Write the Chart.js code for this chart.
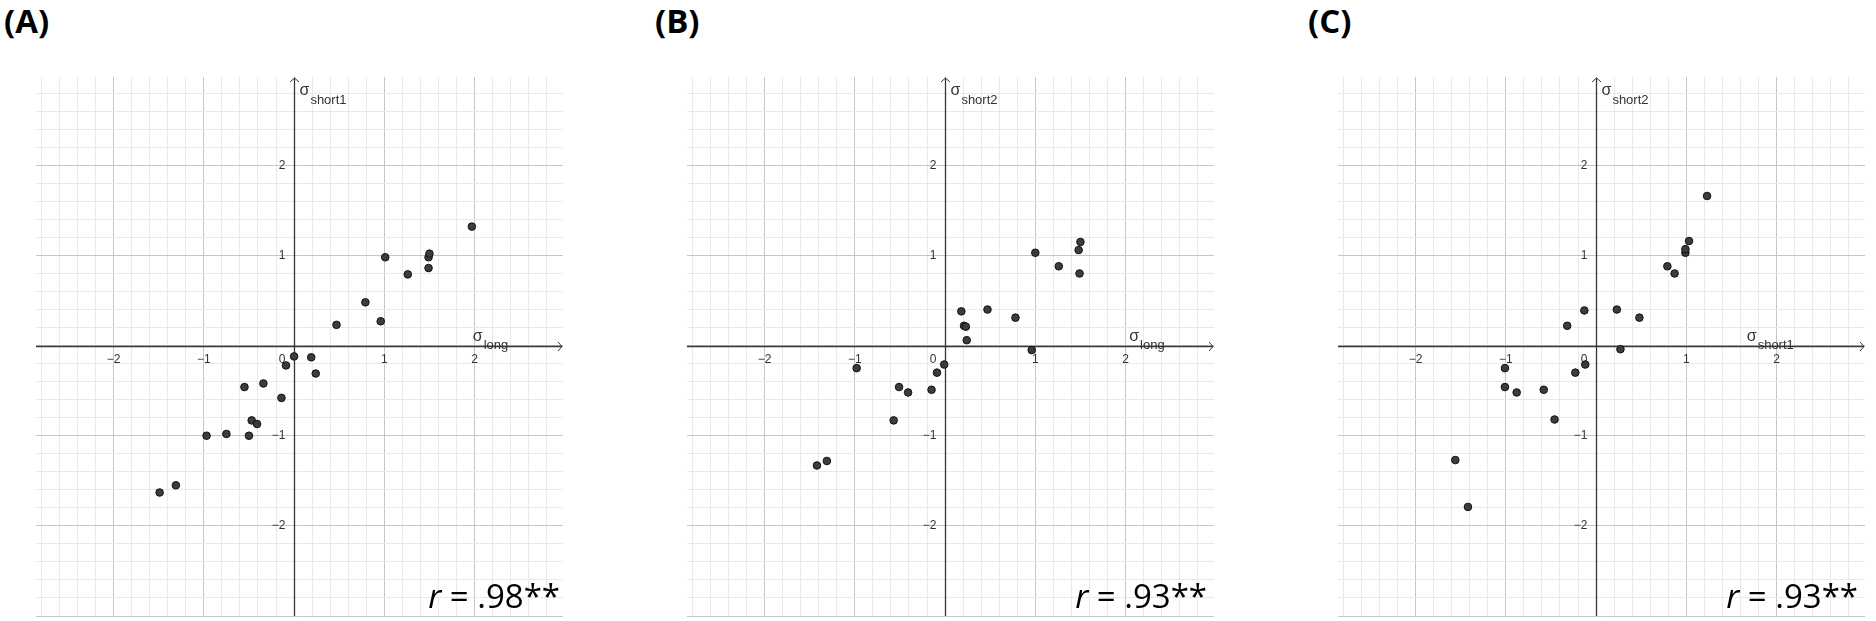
<!DOCTYPE html>
<html>
<head>
<meta charset="utf-8">
<script src="https://cdn.jsdelivr.net/npm/chart.js@4.4.1/dist/chart.umd.min.js"></script>
<style>
    body { margin: 0; background: #fff; }
    #page { position: relative; width: 1876px; height: 621px; overflow: hidden; background: #fff; }
    .panel-letter { position: absolute; top: 4px; font: bold 33px "Open Sans", sans-serif; line-height: 33px; color: #000; }
    .plot { position: absolute; top: 72px; }
    .r-label { position: absolute; top: 579px; font: 33px "Open Sans", sans-serif; line-height: 33px; color: #000; white-space: nowrap; }
</style>
</head>
<body>
<div id="page"></div>
<script>
// (A) sigma_long vs sigma_short1
const longA   = [-1.49, -1.31, -0.97, -0.75, -0.50, -0.47, -0.41, -0.55, -0.34, -0.14, -0.09, 0.00, 0.19, 0.24, 0.47, 0.79, 0.96, 1.01, 1.26, 1.49, 1.49, 1.50, 1.97];
const short1A = [-1.63, -1.55, -1.00, -0.98, -1.00, -0.83, -0.87, -0.46, -0.42, -0.58, -0.22, -0.12, -0.13, -0.31, 0.23, 0.48, 0.27, 0.98, 0.79, 0.86, 0.98, 1.02, 1.32];

// (B) sigma_long vs sigma_short2
const longB   = [-1.42, -1.31, -0.98, -0.57, -0.51, -0.41, -0.15, -0.09, -0.01, 0.18, 0.21, 0.23, 0.24, 0.47, 0.78, 0.96, 1.00, 1.26, 1.49, 1.48, 1.50];
const short2B = [-1.33, -1.28, -0.25, -0.83, -0.46, -0.52, -0.49, -0.30, -0.21, 0.38, 0.22, 0.21, 0.06, 0.40, 0.31, -0.05, 1.03, 0.88, 0.80, 1.06, 1.15];

// (C) sigma_short1 vs sigma_short2
const short1C = [-1.56, -1.42, -1.01, -1.01, -0.88, -0.58, -0.46, -0.32, -0.23, -0.13, -0.12, 0.23, 0.27, 0.48, 0.79, 0.87, 0.99, 0.99, 1.03, 1.23];
const short2C = [-1.27, -1.79, -0.25, -0.46, -0.52, -0.49, -0.82, 0.22, -0.30, 0.39, -0.21, 0.40, -0.04, 0.31, 0.88, 0.80, 1.03, 1.07, 1.16, 1.66];

const panelLetters = ['(A)', '(B)', '(C)'];
const xTitles = ['long', 'long', 'short1'];
const yTitles = ['short1', 'short2', 'short2'];
const rValues = ['.98', '.93', '.93'];
const tickValues = [-2, -1, 1, 2];

(function () {
    const AXIS_COLOR = '#363636';
    const MAJOR_COLOR = '#c6c6c6';
    const MINOR_COLOR = '#e9e9e9';
    const LABEL_COLOR = '#333';
    const page = document.getElementById('page');

    const series = [[longA, short1A], [longB, short2B], [short1C, short2C]];
    // where things sit on the page, per panel
    const layout = [
        { canvasLeft: 31, letterLeft: 4, rRight: 560, xTitleAt: 1.98 },
        { canvasLeft: 682, letterLeft: 655, rRight: 1207, xTitleAt: 2.04 },
        { canvasLeft: 1333, letterLeft: 1308, rRight: 1858, xTitleAt: 1.67 },
    ];

    function fmt(v) {
        return v < 0 ? '\u2212' + Math.abs(v) : String(v);
    }

    function gridColor(ctx) {
        let v = ctx.tick.value;
        return Math.abs(v - Math.round(v)) < 1e-6 ? MAJOR_COLOR : MINOR_COLOR;
    }

    function drawSigma(ctx, sub, x, baseline) {
        ctx.textAlign = 'left';
        ctx.textBaseline = 'alphabetic';
        ctx.font = '16px "Liberation Sans"';
        ctx.fillText('\u03c3', x, baseline);
        let w = ctx.measureText('\u03c3').width;
        ctx.font = '13px "Liberation Sans"';
        ctx.fillText(sub, x + w + 1, baseline + 8.5);
    }

    // GeoGebra-like axes: arrows, labels next to the zero lines
    const geoAxes = {
        id: 'geoAxes',
        beforeDatasetsDraw(chart, args, opts) {
            const { ctx, chartArea: area, scales: { x, y } } = chart;
            const x0 = Math.round(x.getPixelForValue(0)) + 0.5;
            const y0 = Math.round(y.getPixelForValue(0)) + 0.5;
            ctx.save();
            ctx.strokeStyle = AXIS_COLOR;
            ctx.lineWidth = 1.3;
            ctx.beginPath();
            ctx.moveTo(area.left, y0);
            ctx.lineTo(area.right - 1, y0);
            ctx.moveTo(x0, area.bottom);
            ctx.lineTo(x0, area.top + 1);
            ctx.stroke();
            ctx.lineWidth = 1;
            ctx.beginPath();
            ctx.moveTo(area.right - 5, y0 - 4.5);
            ctx.lineTo(area.right - 1, y0);
            ctx.lineTo(area.right - 5, y0 + 4.5);
            ctx.moveTo(x0 - 4.5, area.top + 5);
            ctx.lineTo(x0, area.top + 1);
            ctx.lineTo(x0 + 4.5, area.top + 5);
            ctx.stroke();

            ctx.fillStyle = LABEL_COLOR;
            ctx.font = '12px "Liberation Sans"';
            ctx.textAlign = 'center';
            ctx.textBaseline = 'middle';
            tickValues.forEach(v => ctx.fillText(fmt(v), x.getPixelForValue(v), y0 + 13));
            ctx.textAlign = 'right';
            tickValues.forEach(v => ctx.fillText(fmt(v), x0 - 9, y.getPixelForValue(v)));
            ctx.fillText('0', x0 - 9, y0 + 13);

            drawSigma(ctx, opts.xTitle, x.getPixelForValue(opts.xTitleAt), y0 - 6);
            drawSigma(ctx, opts.yTitle, x0 + 5, area.top + 18);
            ctx.restore();
        }
    };

    function newPanel(i) {
        const pos = layout[i];
        const [xs, ys] = series[i];

        const letter = document.createElement('div');
        letter.className = 'panel-letter';
        letter.style.left = pos.letterLeft + 'px';
        letter.textContent = panelLetters[i];
        page.appendChild(letter);

        const canvas = document.createElement('canvas');
        canvas.className = 'plot';
        canvas.width = 537;
        canvas.height = 549;
        canvas.style.left = pos.canvasLeft + 'px';
        page.appendChild(canvas);

        const r = document.createElement('div');
        r.className = 'r-label';
        r.style.right = (1876 - pos.rRight) + 'px';
        r.innerHTML = '<i>r</i> = ' + rValues[i] + '**';
        page.appendChild(r);

        const axisOptions = (min, max) => ({
            type: 'linear',
            min: min,
            max: max,
            ticks: { display: false, stepSize: 0.2, includeBounds: false },
            grid: { color: gridColor, lineWidth: 1, drawTicks: false },
            border: { display: false },
        });

        return new Chart(canvas, {
            type: 'scatter',
            data: {
                datasets: [{
                    data: xs.map((v, j) => ({ x: v, y: ys[j] })),
                    pointRadius: 3.8,
                    pointBackgroundColor: '#3c3c3c',
                    pointBorderColor: '#111',
                    pointBorderWidth: 1,
                }]
            },
            options: {
                responsive: false,
                animation: false,
                layout: { padding: 0 },
                scales: {
                    x: axisOptions(-2.86, 2.98),
                    y: axisOptions(-3.0, 2.98),
                },
                plugins: {
                    legend: { display: false },
                    tooltip: { enabled: false },
                    geoAxes: { xTitle: xTitles[i], yTitle: yTitles[i], xTitleAt: pos.xTitleAt },
                },
            },
            plugins: [geoAxes],
        });
    }

    [0, 1, 2].forEach(newPanel);
})();
</script>
</body>
</html>
